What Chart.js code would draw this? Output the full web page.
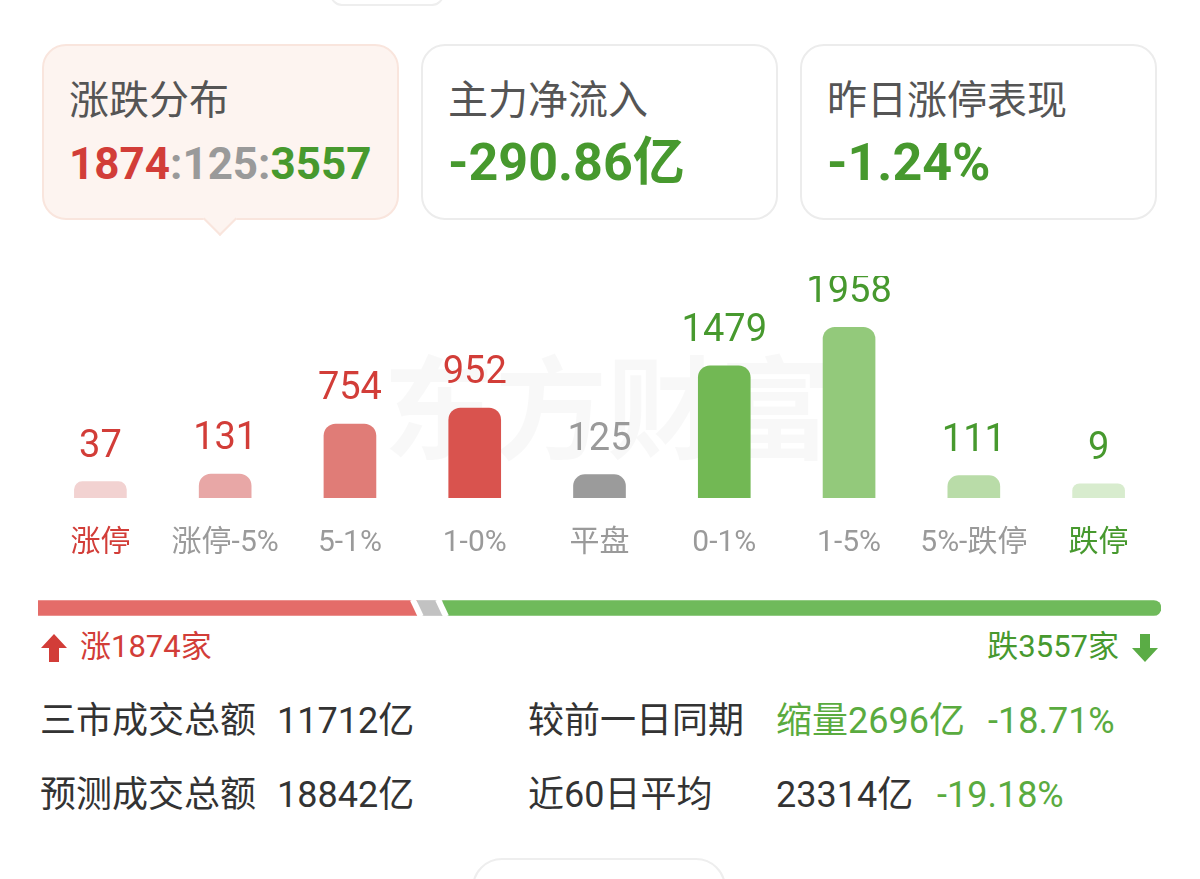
<!DOCTYPE html>
<html>
<head>
<meta charset="utf-8">
<script src="https://cdn.jsdelivr.net/npm/chart.js@4/dist/chart.umd.min.js"></script>
<style>
  body { margin: 0; background: #fff; width: 1200px; height: 879px; overflow: hidden; position: relative;
         font-family: Roboto, "Noto Sans CJK SC", sans-serif; }
  .abs { position: absolute; white-space: nowrap; }
  .card { position: absolute; top: 44px; width: 353px; height: 172px; border: 2px solid #ececec; border-radius: 24px; background: #fff; }
  .card.on { background: #fdf4f0; border-color: #f9e5dd; }
  .card .t { position: absolute; left: 25px; top: 33px; font-size: 40px; line-height: 44px; color: #555; }
  .card .v { position: absolute; left: 25px; top: 93px; font-size: 44px; line-height: 50px; font-weight: bold; }
  .card .v.big { font-size: 52px; top: 92px; }
  .pointer { position: absolute; left: 208px; top: 207px; width: 22px; height: 22px; background: #fdf4f0;
             border-right: 2px solid #f9e5dd; border-bottom: 2px solid #f9e5dd; transform: rotate(45deg); }
  .red { color: #d23d38; }
  .grn { color: #47992e; }
  .gry { color: #9a9a9a; }
  .row { font-size: 36px; line-height: 40px; color: #333; }
</style>
</head>
<body>
<div class="abs" style="left:330px;top:-20px;width:110px;height:22px;border:2px solid #eee;border-radius:12px;"></div>

<div class="card on" style="left:42px;">
  <div class="t">涨跌分布</div>
  <div class="v"><span class="red">1874</span><span class="gry">:125:</span><span class="grn">3557</span></div>
</div>
<div class="pointer"></div>
<div class="card" style="left:421px;">
  <div class="t">主力净流入</div>
  <div class="v big grn">-290.86亿</div>
</div>
<div class="card" style="left:800px;">
  <div class="t">昨日涨停表现</div>
  <div class="v big grn">-1.24%</div>
</div>

<div class="abs" style="left:0;top:276px;width:1200px;height:310px;"><canvas id="distChart"></canvas></div>
<div class="abs" style="left:0;top:590px;width:1200px;height:36px;"><canvas id="ratioChart"></canvas></div>

<svg class="abs" style="left:40px;top:633px;" width="28" height="30" viewBox="0 0 28 30">
  <path d="M14 1 L27 15 L19 15 L19 29 L9 29 L9 15 L1 15 Z" fill="#d23d38"/>
</svg>
<div class="abs red" style="left:80px;top:628px;font-size:31px;line-height:38px;">涨1874家</div>
<div class="abs grn" style="right:81px;top:628px;font-size:31px;line-height:38px;">跌3557家</div>
<svg class="abs" style="left:1131px;top:633px;" width="28" height="30" viewBox="0 0 28 30">
  <path d="M14 29 L27 15 L19 15 L19 1 L9 1 L9 15 L1 15 Z" fill="#5aac45"/>
</svg>

<div class="abs row" style="left:40px;top:701px;">三市成交总额</div>
<div class="abs row" style="left:277px;top:701px;">11712亿</div>
<div class="abs row" style="left:528px;top:701px;">较前一日同期</div>
<div class="abs row" style="left:776px;top:701px;color:#5aab3f;">缩量2696亿</div>
<div class="abs row" style="left:988px;top:701px;color:#5aab3f;">-18.71%</div>

<div class="abs row" style="left:40px;top:775px;">预测成交总额</div>
<div class="abs row" style="left:277px;top:775px;">18842亿</div>
<div class="abs row" style="left:528px;top:775px;">近60日平均</div>
<div class="abs row" style="left:776px;top:775px;">23314亿</div>
<div class="abs row" style="left:937px;top:775px;color:#5aab3f;">-19.18%</div>

<div class="abs" style="left:472px;top:858px;width:250px;height:60px;border:2px solid #eee;border-radius:30px;"></div>

<script>
// 涨跌分布数据
const categories = ['涨停', '涨停-5%', '5-1%', '1-0%', '平盘', '0-1%', '1-5%', '5%-跌停', '跌停'];
const counts = [37, 131, 754, 952, 125, 1479, 1958, 111, 9];
const barColors = ['#f2d2d1', '#e8a7a6', '#e07c77', '#d9534e', '#9b9b9b', '#72b854', '#93c97b', '#b9dca8', '#d8ecce'];
const valueColors = ['#d23d38', '#d23d38', '#d23d38', '#d23d38', '#9a9a9a', '#47992e', '#47992e', '#47992e', '#47992e'];
const tickColors = ['#d23d38', '#9a9a9a', '#9a9a9a', '#9a9a9a', '#9a9a9a', '#9a9a9a', '#9a9a9a', '#9a9a9a', '#47992e'];

// 涨 / 平 / 跌 家数
const ratioLabels = ['涨', '平', '跌'];
const ratioValues = [1874, 125, 3557];
const ratioColors = ['#e46c69', '#c2c2c2', '#6fba5b'];

const fontFamily = 'Roboto, "Noto Sans CJK SC", sans-serif';

const watermark = {
    id: 'watermark',
    beforeDatasetsDraw(chart) {
        const ctx = chart.ctx;
        ctx.save();
        ctx.font = 'bold 112px "Noto Sans CJK SC", sans-serif';
        ctx.fillStyle = 'rgba(0,0,0,0.028)';
        ctx.textAlign = 'center';
        ctx.textBaseline = 'middle';
        ctx.fillText('东方财富', 607, 132);
        ctx.restore();
    }
};

const valueLabels = {
    id: 'valueLabels',
    afterDatasetsDraw(chart) {
        const ctx = chart.ctx;
        const meta = chart.getDatasetMeta(0);
        ctx.save();
        ctx.font = '38px ' + fontFamily;
        ctx.textAlign = 'center';
        ctx.textBaseline = 'alphabetic';
        meta.data.forEach((bar, i) => {
            ctx.fillStyle = valueColors[i];
            ctx.fillText(counts[i], bar.x, bar.y - 25);
        });
        ctx.restore();
    }
};

new Chart(document.getElementById('distChart'), {
    type: 'bar',
    data: {
        labels: categories,
        datasets: [{
            data: counts,
            backgroundColor: barColors,
            base: -167,
            barThickness: 52,
            borderRadius: { topLeft: 12, topRight: 12 },
            borderSkipped: 'start'
        }]
    },
    options: {
        responsive: true,
        maintainAspectRatio: false,
        animation: false,
        layout: { padding: { left: 38, right: 39, top: 30, bottom: 6 } },
        plugins: { legend: { display: false }, tooltip: { enabled: false } },
        scales: {
            x: {
                grid: { display: false },
                border: { display: false },
                ticks: {
                    padding: 19,
                    maxRotation: 0,
                    autoSkip: false,
                    font: { size: 30, family: fontFamily },
                    color: (c) => tickColors[c.index]
                }
            },
            y: { display: false, min: -167, max: 2223 }
        }
    },
    plugins: [watermark, valueLabels]
});

const slantGaps = {
    id: 'slantGaps',
    afterDatasetsDraw(chart) {
        const ctx = chart.ctx;
        const x = chart.scales.x;
        const bar = chart.getDatasetMeta(0).data[0];
        const top = bar.y - bar.height / 2 - 1;
        const bottom = bar.y + bar.height / 2 + 1;
        let acc = 0;
        ctx.save();
        ctx.strokeStyle = '#fff';
        ctx.lineWidth = 6;
        for (let i = 0; i < ratioValues.length - 1; i++) {
            acc += ratioValues[i];
            const px = x.getPixelForValue(acc);
            ctx.beginPath();
            ctx.moveTo(px - 4, top);
            ctx.lineTo(px + 4, bottom);
            ctx.stroke();
        }
        ctx.restore();
    }
};

new Chart(document.getElementById('ratioChart'), {
    type: 'bar',
    data: {
        labels: [''],
        datasets: ratioValues.map((v, i) => ({
            label: ratioLabels[i],
            data: [v],
            backgroundColor: ratioColors[i],
            barThickness: 15,
            borderRadius: i === 1 ? 0 : 8,
            borderSkipped: i === 0 ? 'end' : 'start'
        }))
    },
    options: {
        indexAxis: 'y',
        responsive: true,
        maintainAspectRatio: false,
        animation: false,
        layout: { padding: { left: 38, right: 39, top: 0, bottom: 0 } },
        plugins: { legend: { display: false }, tooltip: { enabled: false } },
        scales: {
            x: { display: false, stacked: true, min: 0, max: ratioValues.reduce((a, b) => a + b, 0) },
            y: { display: false, stacked: true }
        }
    },
    plugins: [slantGaps]
});
</script>
</body>
</html>
